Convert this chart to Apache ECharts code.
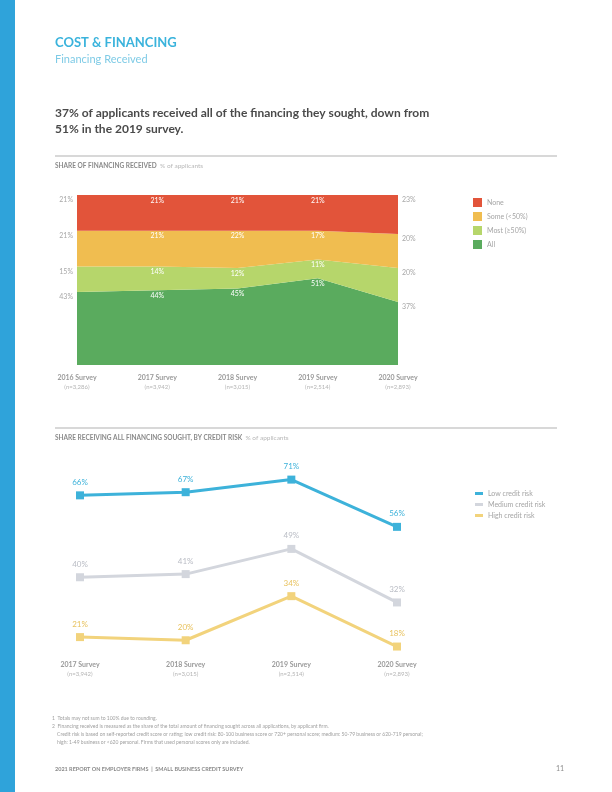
<!DOCTYPE html>
<html lang="en">
<head>
<meta charset="UTF-8">
<title>Financing Received</title>
<script src="https://cdn.jsdelivr.net/npm/echarts@6/dist/echarts.min.js"></script>
<style>
html,body{margin:0;padding:0;background:#fff}
#page{width:612px;height:792px}
</style>
</head>
<body>
<div id="page"></div>
<script>
// share of financing received (% of applicants), stacked bottom to top
const surveys = ['2016 Survey', '2017 Survey', '2018 Survey', '2019 Survey', '2020 Survey'];
const surveyN = ['(n=3,286)', '(n=3,942)', '(n=3,015)', '(n=2,514)', '(n=2,893)'];
const allRecv  = [43, 44, 45, 51, 37];
const mostRecv = [15, 14, 12, 11, 20];
const someRecv = [21, 21, 22, 17, 20];
const noneRecv = [21, 21, 21, 21, 23];

// share receiving all financing sought, by credit risk
const riskSurveys = ['2017 Survey', '2018 Survey', '2019 Survey', '2020 Survey'];
const riskN = ['(n=3,942)', '(n=3,015)', '(n=2,514)', '(n=2,893)'];
const lowRisk  = [66, 67, 71, 56];
const medRisk  = [40, 41, 49, 32];
const highRisk = [21, 20, 34, 18];

const FONT = 'Lato';
const bandColors = ['#5aab5e', '#b6d66b', '#f0bd50', '#e2543a'];
const riskColors = ['#3db2da', '#d3d6dd', '#f2d37c'];

// labels: first point left of the chart, last point right, middle ones inside in white
function bandData(vals){
    return vals.map((v, i) => {
        let label;
        if (i === 0) label = {position: 'left', distance: 4, offset: [0, 5], color: '#a8a8a8'};
        else if (i === vals.length - 1) label = {position: 'right', distance: 4, offset: [0, 5], color: '#a8a8a8'};
        else label = {position: 'bottom', distance: 2, color: '#ffffff'};
        return {value: v, label: label};
    });
}

function bandSeries(name, vals, color){
    return {
        type: 'line', name: name, stack: 'fin',
        symbol: 'circle', symbolSize: 0,
        lineStyle: {width: 0},
        itemStyle: {color: color},
        areaStyle: {color: color, opacity: 1},
        label: {show: true, fontFamily: FONT, fontSize: 7, formatter: '{c}%'},
        data: bandData(vals)
    };
}

function riskSeries(name, vals, color, labelColor){
    return {
        type: 'line', name: name, xAxisIndex: 1, yAxisIndex: 1,
        symbol: 'rect', symbolSize: 8,
        lineStyle: {width: 3, color: color},
        itemStyle: {color: color},
        label: {show: true, position: 'top', distance: 5, fontFamily: FONT, fontSize: 8,
                color: labelColor, formatter: '{c}%'},
        data: vals
    };
}

const axisRich = {
    a: {fontFamily: FONT, fontSize: 7, color: '#9a9a9a', fontWeight: 'bold', lineHeight: 10},
    b: {fontFamily: FONT, fontSize: 6, color: '#b5b5b5', lineHeight: 9}
};

const option = {
    animation: false,
    backgroundColor: '#ffffff',
    grid: [
        {left: 77, top: 195, width: 321, height: 170},
        {left: 80, top: 467, width: 317, height: 189}
    ],
    xAxis: [
        {
            type: 'category', gridIndex: 0, boundaryGap: false, data: surveys,
            axisLine: {show: false}, axisTick: {show: false},
            axisLabel: {interval: 0, margin: 8, formatter: (v, i) => '{a|' + v + '}\n{b|' + surveyN[i] + '}', rich: axisRich}
        },
        {
            type: 'category', gridIndex: 1, boundaryGap: false, data: riskSurveys,
            axisLine: {show: false}, axisTick: {show: false},
            axisLabel: {interval: 0, margin: 4, formatter: (v, i) => '{a|' + v + '}\n{b|' + riskN[i] + '}', rich: axisRich}
        }
    ],
    yAxis: [
        {type: 'value', gridIndex: 0, min: 0, max: 100, show: false},
        {type: 'value', gridIndex: 1, min: 15, max: 75, show: false}
    ],
    legend: [
        {
            left: 468, top: 193, orient: 'vertical', itemWidth: 9, itemHeight: 9, itemGap: 5,
            icon: 'rect',
            textStyle: {fontFamily: FONT, fontSize: 7, color: '#a5a5a5'},
            data: ['None', 'Some (<50%)', 'Most (≥50%)', 'All']
        },
        {
            left: 470, top: 485, orient: 'vertical', itemWidth: 8, itemHeight: 3, itemGap: 4,
            icon: 'rect',
            textStyle: {fontFamily: FONT, fontSize: 7, color: '#a5a5a5'},
            data: ['Low credit risk', 'Medium credit risk', 'High credit risk']
        }
    ],
    series: [
        bandSeries('All', allRecv, bandColors[0]),
        bandSeries('Most (≥50%)', mostRecv, bandColors[1]),
        bandSeries('Some (<50%)', someRecv, bandColors[2]),
        bandSeries('None', noneRecv, bandColors[3]),
        riskSeries('Low credit risk', lowRisk, riskColors[0], '#3db2da'),
        riskSeries('Medium credit risk', medRisk, riskColors[1], '#b9bcc4'),
        riskSeries('High credit risk', highRisk, riskColors[2], '#e8c25e')
    ],
    graphic: [
        // left page stripe
        {type: 'rect', shape: {x: 0, y: 0, width: 15, height: 792}, style: {fill: '#2fa3da'}},
        {type: 'text', left: 55, top: 36, style: {text: 'COST & FINANCING', font: 'bold 13px Lato', fill: '#3ab3dc'}},
        {type: 'text', left: 55, top: 54, style: {text: 'Financing Received', font: '11px Lato', fill: '#7fcbe6'}},
        {type: 'text', left: 55, top: 105, style: {
            text: '37% of applicants received all of the financing they sought, down from\n51% in the 2019 survey.',
            font: 'bold 12px Lato', fill: '#4a4a4a', lineHeight: 16}},
        {type: 'rect', shape: {x: 55, y: 155, width: 502, height: 2}, style: {fill: '#d8d8d8'}},
        {type: 'text', left: 55, top: 162, style: {
            text: '{a|SHARE OF FINANCING RECEIVED}{b|  % of applicants}',
            rich: {a: {font: 'bold 6.5px Lato', fill: '#8a8a8a'}, b: {font: '6.5px Lato', fill: '#b8b8b8'}}}},
        {type: 'rect', shape: {x: 55, y: 427, width: 502, height: 2}, style: {fill: '#d8d8d8'}},
        {type: 'text', left: 55, top: 434, style: {
            text: '{a|SHARE RECEIVING ALL FINANCING SOUGHT, BY CREDIT RISK}{b|  % of applicants}',
            rich: {a: {font: 'bold 6.5px Lato', fill: '#8a8a8a'}, b: {font: '6.5px Lato', fill: '#b8b8b8'}}}},
        // footnotes
        {type: 'text', left: 52, top: 714, style: {
            text: '1  Totals may not sum to 100% due to rounding.\n2  Financing received is measured as the share of the total amount of financing sought across all applications, by applicant firm.\n    Credit risk is based on self-reported credit score or rating; low credit risk: 80-100 business score or 720+ personal score; medium: 50-79 business or 620-719 personal;\n    high: 1-49 business or <620 personal. Firms that used personal scores only are included.',
            font: '5px Lato', fill: '#a0a0a0', lineHeight: 8}},
        {type: 'text', left: 55, top: 766, style: {
            text: '2021 REPORT ON EMPLOYER FIRMS  |  SMALL BUSINESS CREDIT SURVEY',
            font: 'bold 5.5px Lato', fill: '#8a8a8a'}},
        {type: 'text', left: 556, top: 765, style: {text: '11', font: '7px Lato', fill: '#8a8a8a'}}
    ]
};

const chart = echarts.init(document.getElementById('page'), null, {renderer: 'canvas'});
chart.setOption(option);
</script>
</body>
</html>
